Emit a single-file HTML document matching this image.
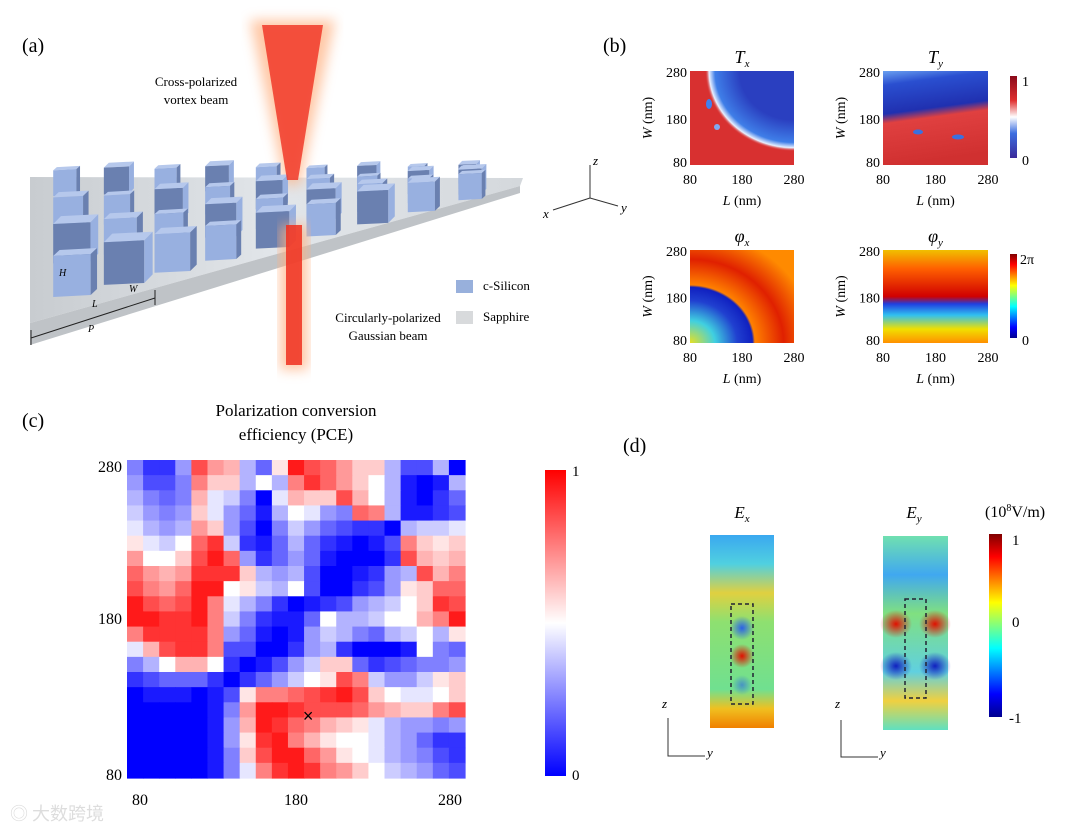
<!DOCTYPE html>
<html><head><meta charset="utf-8"><style>
body{margin:0;background:#fff;}
svg{display:block;font-family:"Liberation Serif",serif;}
</style></head><body>
<svg id="fig" width="1080" height="833" viewBox="0 0 1080 833">
<defs>
<linearGradient id="jetV" x1="0" y1="1" x2="0" y2="0">
<stop offset="0" stop-color="#00008f"/><stop offset="0.125" stop-color="#0000ff"/><stop offset="0.375" stop-color="#00ffff"/><stop offset="0.625" stop-color="#ffff00"/><stop offset="0.875" stop-color="#ff0000"/><stop offset="1" stop-color="#800000"/></linearGradient>
<linearGradient id="tcb" x1="0" y1="1" x2="0" y2="0">
<stop offset="0" stop-color="#3b2a9a"/><stop offset="0.3" stop-color="#3c6ee0"/><stop offset="0.5" stop-color="#ffffff"/><stop offset="0.7" stop-color="#e03030"/><stop offset="1" stop-color="#8a0a1a"/></linearGradient>
<linearGradient id="bwrV" x1="0" y1="1" x2="0" y2="0">
<stop offset="0" stop-color="#0000ff"/><stop offset="0.5" stop-color="#ffffff"/><stop offset="1" stop-color="#ff0000"/></linearGradient>
<radialGradient id="txBlue" cx="1" cy="0" r="0.95"><stop offset="0.55" stop-color="#2a3fc0"/><stop offset="0.8" stop-color="#3f7ee8"/><stop offset="0.86" stop-color="#e8f0ff"/><stop offset="0.9" stop-color="#d83030" stop-opacity="0"/></radialGradient>
<linearGradient id="tyG" x1="0" y1="0" x2="0.15" y2="1"><stop offset="0" stop-color="#6aa0f0"/><stop offset="0.15" stop-color="#2a4fd0"/><stop offset="0.45" stop-color="#2030b0"/><stop offset="0.55" stop-color="#e04040"/><stop offset="1" stop-color="#d03030"/></linearGradient>
<radialGradient id="pxG" cx="0" cy="1" r="1.2"><stop offset="0" stop-color="#e8e020"/><stop offset="0.2" stop-color="#40d0e0"/><stop offset="0.38" stop-color="#2040d0"/><stop offset="0.5" stop-color="#1020c0"/><stop offset="0.52" stop-color="#ff8000"/><stop offset="0.75" stop-color="#e02000"/><stop offset="1" stop-color="#ff8a00"/></radialGradient>
<linearGradient id="pyG" x1="0" y1="0" x2="0" y2="1"><stop offset="0" stop-color="#f0c000"/><stop offset="0.2" stop-color="#ff6000"/><stop offset="0.5" stop-color="#d00000"/><stop offset="0.58" stop-color="#2040e0"/><stop offset="0.7" stop-color="#30c0f0"/><stop offset="0.85" stop-color="#f0e000"/><stop offset="1" stop-color="#ff9000"/></linearGradient>
<linearGradient id="exG" x1="0" y1="0" x2="0" y2="1"><stop offset="0" stop-color="#3aa8f0"/><stop offset="0.15" stop-color="#50d0e0"/><stop offset="0.3" stop-color="#e0d040"/><stop offset="0.45" stop-color="#8ee070"/><stop offset="0.8" stop-color="#70e090"/><stop offset="0.9" stop-color="#f0c020"/><stop offset="1" stop-color="#f08000"/></linearGradient>
<linearGradient id="eyG" x1="0" y1="0" x2="0" y2="1"><stop offset="0" stop-color="#70e0b0"/><stop offset="0.2" stop-color="#40a8f0"/><stop offset="0.4" stop-color="#80e080"/><stop offset="0.7" stop-color="#60d0e0"/><stop offset="0.85" stop-color="#f0d040"/><stop offset="1" stop-color="#60e0c0"/></linearGradient>
<radialGradient id="hotR"><stop offset="0" stop-color="#e01000"/><stop offset="1" stop-color="#e01000" stop-opacity="0"/></radialGradient>
<radialGradient id="coldB"><stop offset="0" stop-color="#1020c0"/><stop offset="1" stop-color="#1020c0" stop-opacity="0"/></radialGradient>
<radialGradient id="midB"><stop offset="0" stop-color="#2a60e8"/><stop offset="1" stop-color="#2a60e8" stop-opacity="0"/></radialGradient>
<linearGradient id="slabG" x1="0" y1="0" x2="1" y2="0"><stop offset="0" stop-color="#c8ccd0"/><stop offset="0.5" stop-color="#e2e6ea"/><stop offset="1" stop-color="#d4d8dc"/></linearGradient>
<filter id="blur"><feGaussianBlur stdDeviation="6"/></filter>
</defs>

<!-- Panel a -->
<g>
<text x="22" y="52" font-size="20">(a)</text>
<polygon points="30,177 523,178 520,186 30,323" fill="url(#slabG)"/>
<polygon points="30,323 520,186 520,193 30,345" fill="#bfc3c7"/>
<polygon points="250,20 335,20 300,185 285,185" fill="#ffb080" opacity="0.7" filter="url(#blur)"/>
<g id="pillars"></g>
<polygon points="262,25 323,25 298,180 287,180" fill="#f03020" opacity="0.8"/>
<rect x="280" y="225" width="28" height="145" fill="#ffb080" opacity="0.7" filter="url(#blur)"/>
<rect x="286" y="225" width="16" height="140" fill="#f03020" opacity="0.85"/>
<text x="196" y="86" font-size="13" text-anchor="middle">Cross-polarized</text>
<text x="196" y="104" font-size="13" text-anchor="middle">vortex beam</text>
<text x="388" y="322" font-size="13" text-anchor="middle">Circularly-polarized</text>
<text x="388" y="340" font-size="13" text-anchor="middle">Gaussian beam</text>
<rect x="456" y="280" width="17" height="13" fill="#98b0dc"/>
<text x="483" y="290" font-size="13">c-Silicon</text>
<rect x="456" y="311" width="17" height="13" fill="#d8dadc"/>
<text x="483" y="321" font-size="13">Sapphire</text>
<g stroke="#333" stroke-width="1" fill="none">
<line x1="590" y1="198" x2="590" y2="165"/><line x1="590" y1="198" x2="618" y2="206"/><line x1="590" y1="198" x2="553" y2="210"/></g>
<text x="593" y="165" font-size="13" font-style="italic">z</text>
<text x="621" y="212" font-size="13" font-style="italic">y</text>
<text x="543" y="218" font-size="13" font-style="italic">x</text>
<polyline points="31,330 31,345 31,338 155,298 155,290 155,305" fill="none" stroke="#222"/>
<text x="88" y="332" font-size="10" font-style="italic">P</text>
<text x="59" y="276" font-size="10" font-style="italic">H</text>
<text x="92" y="307" font-size="10" font-style="italic">L</text>
<text x="129" y="292" font-size="10" font-style="italic">W</text>
</g>

<!-- Panel b -->
<g>
<text x="603" y="52" font-size="20">(b)</text>
<g>
<rect x="690" y="71" width="104" height="94" fill="#d83030"/>
<rect x="690" y="71" width="104" height="94" fill="url(#txBlue)"/>
<ellipse cx="709" cy="104" rx="3" ry="5" fill="#4080f0"/><ellipse cx="717" cy="127" rx="3" ry="3" fill="#80a8f0"/>
</g>
<g>
<rect x="883" y="71" width="105" height="94" fill="url(#tyG)"/>
<ellipse cx="918" cy="132" rx="5" ry="2.5" fill="#3a70e0"/><ellipse cx="958" cy="137" rx="6" ry="2.5" fill="#3a70e0"/>
</g>
<rect x="690" y="250" width="104" height="93" fill="url(#pxG)"/>
<rect x="883" y="250" width="105" height="93" fill="url(#pyG)"/>
<rect x="1010" y="76" width="7" height="82" fill="url(#tcb)"/>
<rect x="1010" y="254" width="7" height="84" fill="url(#jetV)"/>
<text x="1022" y="86" font-size="14">1</text><text x="1022" y="165" font-size="14">0</text>
<text x="1020" y="264" font-size="14">2π</text><text x="1022" y="345" font-size="14">0</text>
<g font-size="14" id="bLabels"></g>
</g>

<!-- Panel c -->
<g>
<text x="22" y="427" font-size="20">(c)</text>
<text x="296" y="416" font-size="17" text-anchor="middle">Polarization conversion</text>
<text x="296" y="440" font-size="17" text-anchor="middle">efficiency (PCE)</text>
<g id="heat"></g>
<g id="heatAxes" font-size="16"></g>
<rect x="545" y="470" width="21" height="306" fill="url(#bwrV)"/>
<text x="572" y="476" font-size="15">1</text><text x="572" y="780" font-size="15">0</text>
</g>

<!-- Panel d -->
<g>
<text x="623" y="452" font-size="20">(d)</text>
<text x="742" y="518" font-size="17" text-anchor="middle" font-style="italic">E<tspan font-size="11" dy="4">x</tspan></text>
<text x="914" y="518" font-size="17" text-anchor="middle" font-style="italic">E<tspan font-size="11" dy="4">y</tspan></text>
<text x="985" y="517" font-size="16">(10<tspan font-size="10" dy="-6">8</tspan><tspan dy="6">V/m)</tspan></text>
<g>
<rect x="710" y="535" width="64" height="193" fill="url(#exG)"/>
<ellipse cx="742" cy="628" rx="12" ry="12" fill="url(#midB)"/>
<ellipse cx="742" cy="656" rx="12" ry="12" fill="url(#hotR)"/>
<ellipse cx="742" cy="685" rx="10" ry="10" fill="url(#midB)" opacity="0.6"/>
<rect x="731" y="604" width="22" height="100" fill="none" stroke="#223" stroke-width="1.5" stroke-dasharray="4,3"/>
</g>
<g>
<rect x="883" y="536" width="65" height="194" fill="url(#eyG)"/>
<ellipse cx="896" cy="624" rx="16" ry="14" fill="url(#hotR)"/><ellipse cx="935" cy="624" rx="16" ry="14" fill="url(#hotR)"/>
<ellipse cx="896" cy="666" rx="16" ry="14" fill="url(#coldB)"/><ellipse cx="935" cy="666" rx="16" ry="14" fill="url(#coldB)"/>
<rect x="905" y="599" width="21" height="99" fill="none" stroke="#223" stroke-width="1.5" stroke-dasharray="4,3"/>
</g>
<rect x="989" y="534" width="13" height="183" fill="url(#jetV)"/>
<text x="1012" y="545" font-size="15">1</text><text x="1012" y="627" font-size="15">0</text><text x="1009" y="723" font-size="15">-1</text>
<g stroke="#333" fill="none"><polyline points="668,718 668,756 705,756"/><polyline points="841,720 841,757 878,757"/></g>
<text x="662" y="708" font-size="13" font-style="italic">z</text><text x="707" y="757" font-size="13" font-style="italic">y</text>
<text x="835" y="708" font-size="13" font-style="italic">z</text><text x="880" y="757" font-size="13" font-style="italic">y</text>
</g>
<text x="10" y="820" font-size="18" fill="#ddd" font-family="Noto Sans CJK SC, sans-serif">◎ 大数跨境</text>
</svg>
<script>
const lengthsNm = [80,90,100,110,120,130,140,150,160,170,180,190,200,210,220,230,240,250,260,270,280];
const widthsNm = [280,270,260,250,240,230,220,210,200,190,180,170,160,150,140,130,120,110,100,90,80];
const tickLabels = [80,180,280];
const pceRows = [
[0.25,0.1,0.1,0.3,0.85,0.7,0.65,0.35,0.2,0.55,0.95,0.85,0.8,0.7,0.6,0.6,0.35,0.15,0.15,0.35,0.0],
[0.3,0.15,0.15,0.25,0.75,0.6,0.6,0.35,0.5,0.35,0.75,0.9,0.8,0.7,0.6,0.5,0.35,0.05,0.0,0.05,0.35],
[0.35,0.25,0.2,0.25,0.65,0.45,0.4,0.25,0.0,0.45,0.65,0.6,0.6,0.85,0.65,0.5,0.35,0.05,0.0,0.1,0.2],
[0.4,0.3,0.25,0.3,0.6,0.45,0.3,0.2,0.05,0.35,0.5,0.45,0.3,0.25,0.8,0.75,0.35,0.05,0.05,0.1,0.15],
[0.45,0.35,0.3,0.35,0.7,0.6,0.3,0.15,0.0,0.25,0.4,0.3,0.2,0.15,0.1,0.1,0.0,0.35,0.4,0.4,0.45],
[0.55,0.45,0.4,0.5,0.8,0.9,0.4,0.1,0.05,0.2,0.35,0.2,0.1,0.05,0.0,0.05,0.15,0.75,0.6,0.55,0.6],
[0.7,0.5,0.5,0.6,0.85,0.95,0.8,0.3,0.1,0.2,0.3,0.2,0.05,0.0,0.0,0.0,0.1,0.85,0.65,0.6,0.65],
[0.8,0.7,0.65,0.7,0.9,0.9,0.9,0.6,0.35,0.3,0.35,0.15,0.0,0.0,0.05,0.1,0.3,0.35,0.85,0.65,0.75],
[0.85,0.75,0.7,0.8,0.95,0.95,0.5,0.55,0.4,0.35,0.5,0.15,0.0,0.0,0.1,0.15,0.3,0.55,0.6,0.8,0.8],
[0.95,0.85,0.8,0.85,0.95,0.75,0.45,0.35,0.25,0.1,0.0,0.05,0.1,0.15,0.3,0.35,0.4,0.5,0.6,0.9,0.85],
[0.95,0.95,0.9,0.9,0.95,0.75,0.4,0.25,0.1,0.05,0.05,0.2,0.5,0.35,0.35,0.4,0.5,0.5,0.65,0.75,0.95],
[0.75,0.9,0.9,0.9,0.9,0.75,0.3,0.2,0.05,0.0,0.05,0.3,0.4,0.35,0.25,0.2,0.35,0.4,0.5,0.35,0.55],
[0.45,0.65,0.85,0.9,0.9,0.75,0.15,0.15,0.0,0.0,0.1,0.3,0.35,0.1,0.0,0.0,0.0,0.05,0.5,0.25,0.2],
[0.25,0.35,0.5,0.65,0.65,0.5,0.1,0.0,0.05,0.15,0.3,0.4,0.6,0.6,0.2,0.1,0.15,0.2,0.25,0.25,0.3],
[0.1,0.15,0.2,0.2,0.2,0.1,0.0,0.1,0.2,0.3,0.4,0.5,0.55,0.85,0.75,0.4,0.3,0.3,0.4,0.55,0.6],
[0.0,0.05,0.05,0.05,0.0,0.05,0.15,0.55,0.75,0.75,0.8,0.85,0.9,0.95,0.85,0.6,0.5,0.45,0.45,0.5,0.6],
[0.0,0.0,0.0,0.0,0.0,0.05,0.25,0.7,0.95,0.95,0.9,0.85,0.85,0.85,0.8,0.7,0.65,0.6,0.6,0.75,0.85],
[0.0,0.0,0.0,0.0,0.0,0.05,0.3,0.65,0.95,0.9,0.8,0.75,0.65,0.6,0.55,0.45,0.35,0.3,0.3,0.25,0.3],
[0.0,0.0,0.0,0.0,0.0,0.05,0.3,0.55,0.9,0.95,0.75,0.65,0.55,0.5,0.5,0.45,0.35,0.3,0.2,0.1,0.1],
[0.0,0.0,0.0,0.0,0.0,0.05,0.25,0.6,0.85,0.95,0.95,0.8,0.7,0.55,0.5,0.45,0.35,0.3,0.25,0.15,0.1],
[0.0,0.0,0.0,0.0,0.0,0.05,0.25,0.45,0.75,0.9,0.95,0.9,0.75,0.7,0.6,0.5,0.4,0.35,0.3,0.2,0.15]
];
const markerL = 190, markerW = 120;

const NS='http://www.w3.org/2000/svg';
function mk(tag,attrs,parent){const e=document.createElementNS(NS,tag);for(const k in attrs)e.setAttribute(k,attrs[k]);parent.appendChild(e);return e;}
const X0=127,X1=465,Y0=460,Y1=778;
const cw=(X1-X0)/lengthsNm.length, ch=(Y1-Y0)/widthsNm.length;
const xScale=v=>X0+(v-80)/10*cw;
const yScale=v=>Y0+(280-v)/10*ch;
function bwr(t){let r,g,b;if(t<0.5){const s=t/0.5;r=Math.round(255*s);g=r;b=255;}else{const s=(t-0.5)/0.5;r=255;g=Math.round(255*(1-s));b=g;}return `rgb(${r},${g},${b})`;}
const heat=document.getElementById('heat');
pceRows.forEach((row,i)=>row.forEach((v,j)=>{
const c=mk('rect',{x:xScale(lengthsNm[j]).toFixed(2),y:yScale(widthsNm[i]).toFixed(2),width:(cw+0.6).toFixed(2),height:(ch+0.6).toFixed(2),fill:bwr(v)},heat);


}));
const ax=document.getElementById('heatAxes');
tickLabels.forEach(t=>{
const tx=mk('text',{x:(t===80?140:t===280?450:xScale(t)+cw/2),y:805,'text-anchor':'middle'},ax);tx.textContent=t;


const ty=mk('text',{x:122,y:(t===280?Y0+12:t===80?Y1+2:yScale(t)+ch/2+5),'text-anchor':'end'},ax);ty.textContent=t;


});
const mx=xScale(markerL)+cw/2-4, my=yScale(markerW)+ch/2+6;
const m=mk('text',{x:mx,y:my+6,'text-anchor':'middle','font-size':18,'font-family':'Liberation Sans, sans-serif'},ax);m.textContent='×';



// panel b labels
const bl=document.getElementById('bLabels');
[[690,794,71,165,'T','x'],[883,988,71,165,'T','y'],[690,794,250,343,'φ','x'],[883,988,250,343,'φ','y']].forEach(([x0,x1,y0,y1,s,sub])=>{
const t=mk('text',{x:(x0+x1)/2,y:y0-8,'text-anchor':'middle','font-size':18,'font-style':'italic'},bl);t.innerHTML=s+'<tspan font-size="11" dy="4">'+sub+'</tspan>';


[[x0,'80'],[(x0+x1)/2,'180'],[x1,'280']].forEach(([x,l])=>{const e=mk('text',{x:x,y:y1+19,'text-anchor':'middle'},bl);e.textContent=l;});
[[y0+6,'280'],[(y0+y1)/2+6,'180'],[y1+2,'80']].forEach(([y,l])=>{const e=mk('text',{x:x0-3,y:y,'text-anchor':'end'},bl);e.textContent=l;});
const xl=mk('text',{x:(x0+x1)/2,y:y1+40,'text-anchor':'middle'},bl);xl.innerHTML='<tspan font-style="italic">L</tspan> (nm)';
const yl=mk('text',{x:0,y:0,'text-anchor':'middle',transform:`translate(${x0-38},${(y0+y1)/2}) rotate(-90)`},bl);yl.innerHTML='<tspan font-style="italic">W</tspan> (nm)';
});

// pillars decoration (perspective)
const pg=document.getElementById('pillars');
const rowsP=4, colsP=9;
for(let r=0;r<rowsP;r++){for(let c=colsP-1;c>=0;c--){
const v=(r+0.45)/rowsP*0.95, u=(c+0.3)/colsP*0.97;
const x=38+u*470;
const yFar=177, yNear=323-u*137;
const y=yFar+v*(yNear-yFar)+4;
const s=(0.6+0.5*v)*(1-0.4*u);
const j=((r*7+c*13)%5)/5;
const w=(36+j*8)*s, h=(40+j*6)*s, d=(14+j*10)*s;
const dark=j>0.5;
mk('polygon',{points:`${x},${y-h} ${x+w},${y-h-2*s} ${x+w+d*0.4},${y-h-d*0.5} ${x+d*0.4},${y-h-d*0.5+2*s}`,fill:'#b6c8ec'},pg);
mk('polygon',{points:`${x},${y-h} ${x+w},${y-h-2*s} ${x+w},${y-2*s} ${x},${y}`,fill:dark?'#6a80b0':'#98b0e0'},pg);
mk('polygon',{points:`${x+w},${y-h-2*s} ${x+w+d*0.4},${y-h-d*0.5} ${x+w+d*0.4},${y-d*0.5} ${x+w},${y-2*s}`,fill:dark?'#98b0e0':'#6a80b0'},pg);
}}
</script>
</body></html>
